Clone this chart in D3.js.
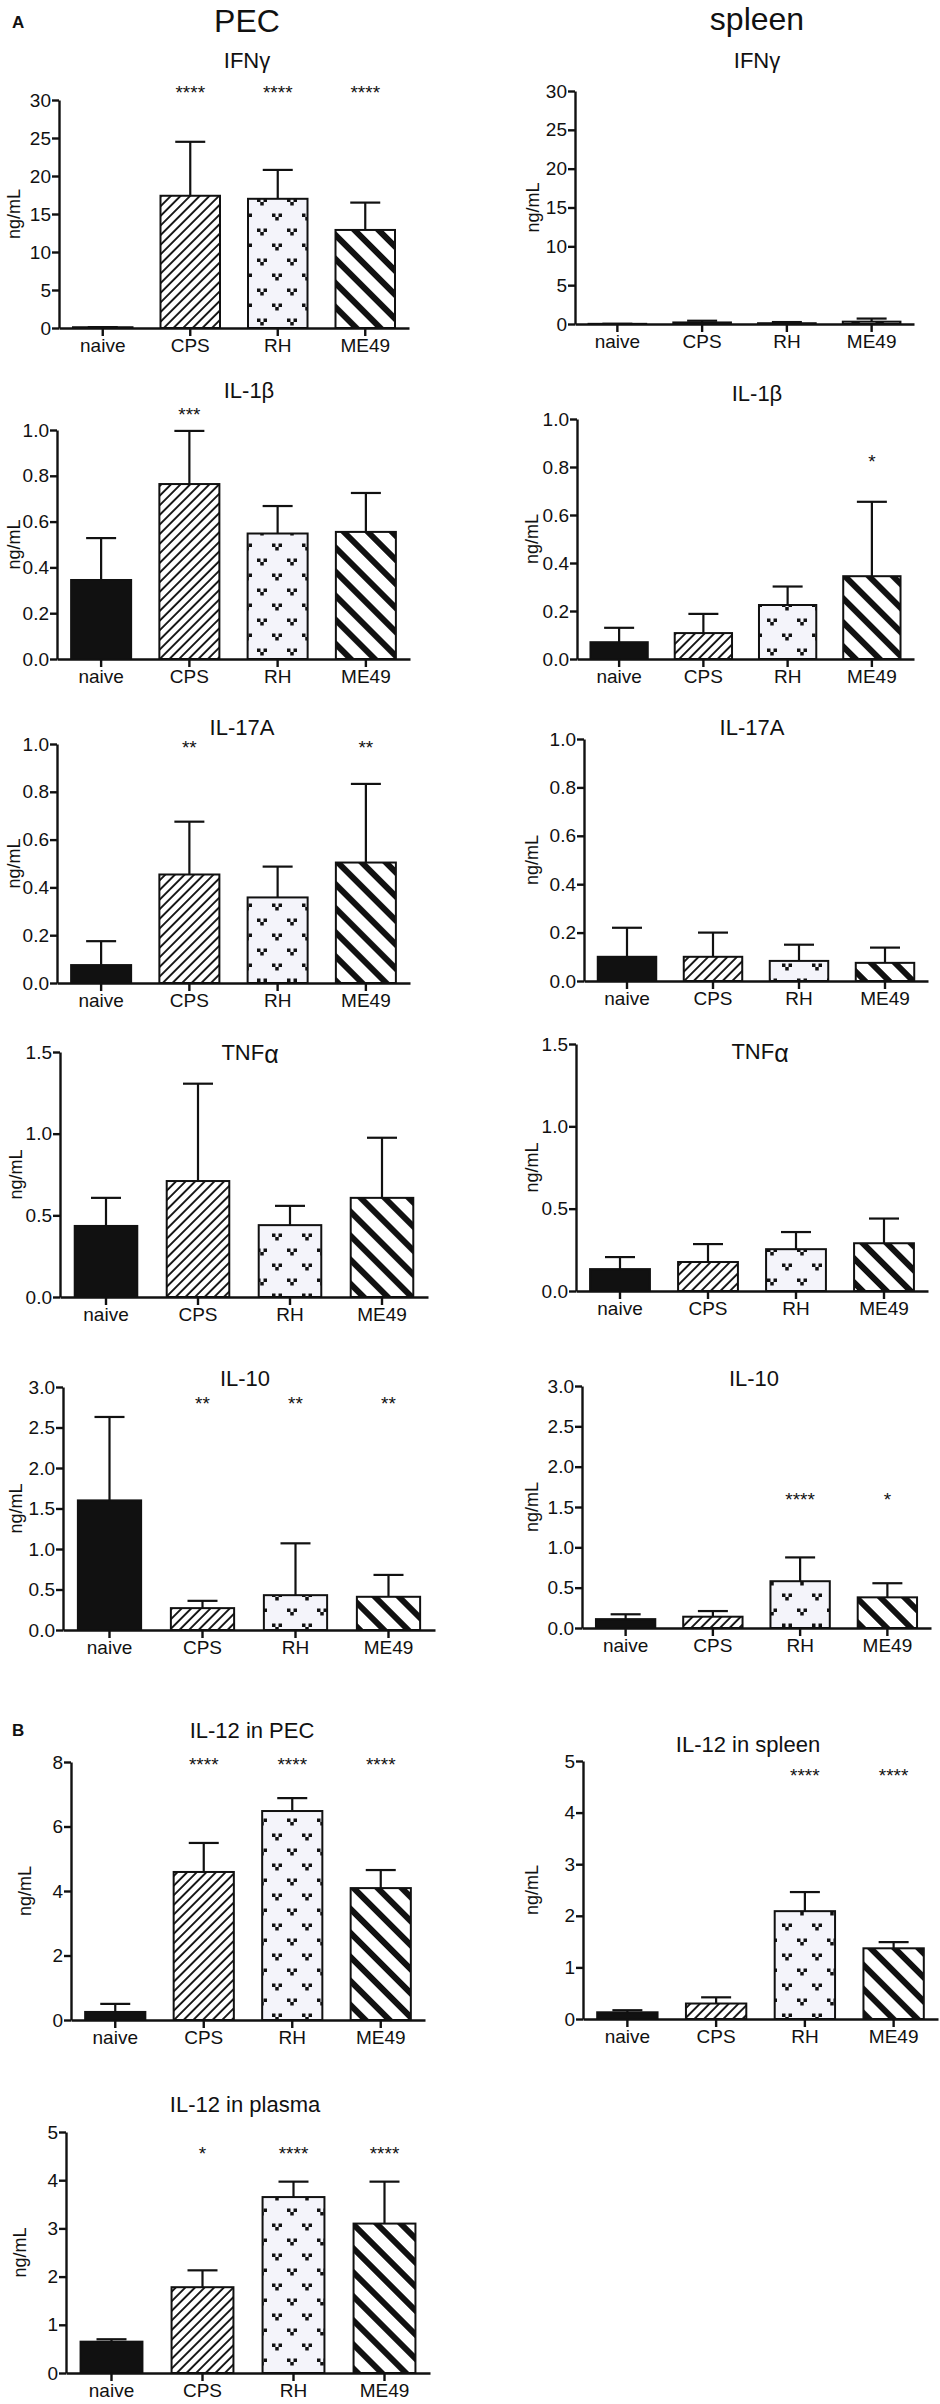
<!DOCTYPE html>
<meta charset="utf-8">
<html>
<head>
<script src="https://d3js.org/d3.v7.min.js"></script>
<style>
  body { margin: 0; background: #fff; }
  text { font-family: "Liberation Sans", Arial, sans-serif; fill: #111; }
  .axis path, .axis line { stroke: #111; stroke-width: 2.4px; }
  .axis text { font-size: 19px; fill: #111; }
</style>
</head>
<body>
<script>
// groups along every x axis
var groups = ["naive", "CPS", "RH", "ME49"];

// y tick values
var ticks30 = [0, 5, 10, 15, 20, 25, 30];
var ticks1 = [0, 0.2, 0.4, 0.6, 0.8, 1.0];
var ticks15 = [0, 0.5, 1.0, 1.5];
var ticks3 = [0, 0.5, 1.0, 1.5, 2.0, 2.5, 3.0];
var ticks8 = [0, 2, 4, 6, 8];
var ticks5 = [0, 1, 2, 3, 4, 5];

// mean, SD (ng/mL) and significance per group
var pecIfngMean = [0.1, 17.4, 17.0, 12.9];
var pecIfngSd = [0.02, 7.1, 3.8, 3.6];
var pecIfngStars = ["", "****", "****", "****"];

var splIfngMean = [0.02, 0.2, 0.1, 0.3];
var splIfngSd = [0.01, 0.22, 0.15, 0.4];
var splIfngStars = ["", "", "", ""];

var pecIl1bMean = [0.345, 0.764, 0.548, 0.555];
var pecIl1bSd = [0.183, 0.232, 0.12, 0.17];
var pecIl1bStars = ["", "***", "", ""];

var splIl1bMean = [0.07, 0.108, 0.225, 0.345];
var splIl1bSd = [0.06, 0.08, 0.077, 0.31];
var splIl1bStars = ["", "", "", "*"];

var pecIl17Mean = [0.075, 0.454, 0.358, 0.504];
var pecIl17Sd = [0.1, 0.221, 0.129, 0.329];
var pecIl17Stars = ["", "**", "", "**"];

var splIl17Mean = [0.1, 0.1, 0.083, 0.075];
var splIl17Sd = [0.12, 0.1, 0.067, 0.063];
var splIl17Stars = ["", "", "", ""];

var pecTnfMean = [0.435, 0.71, 0.44, 0.607];
var pecTnfSd = [0.172, 0.596, 0.118, 0.368];
var pecTnfStars = ["", "", "", ""];

var splTnfMean = [0.133, 0.176, 0.254, 0.29];
var splTnfSd = [0.073, 0.109, 0.104, 0.15];
var splTnfStars = ["", "", "", ""];

var pecIl10Mean = [1.6, 0.27, 0.43, 0.41];
var pecIl10Sd = [1.03, 0.09, 0.64, 0.27];
var pecIl10Stars = ["", "**", "**", "**"];

var splIl10Mean = [0.11, 0.14, 0.58, 0.38];
var splIl10Sd = [0.06, 0.07, 0.295, 0.175];
var splIl10Stars = ["", "", "****", "*"];

var il12PecMean = [0.25, 4.59, 6.48, 4.09];
var il12PecSd = [0.25, 0.9, 0.4, 0.56];
var il12PecStars = ["", "****", "****", "****"];

var il12SplMean = [0.13, 0.3, 2.09, 1.37];
var il12SplSd = [0.04, 0.12, 0.37, 0.12];
var il12SplStars = ["", "", "****", "****"];

var il12PlaMean = [0.65, 1.78, 3.65, 3.1];
var il12PlaSd = [0.05, 0.35, 0.32, 0.87];
var il12PlaStars = ["", "*", "****", "****"];

// panel layout (pixel boxes of each small chart)
var panels = [
  {title: "IFNγ", mean: pecIfngMean, sd: pecIfngSd, stars: pecIfngStars, ticks: ticks30, fmt: "d",
   x0: 59, x1: 409, yTop: 100, yZero: 328, titleX: 247, titleY: 68, starY: 99, labelX: 20},
  {title: "IFNγ", mean: splIfngMean, sd: splIfngSd, stars: splIfngStars, ticks: ticks30, fmt: "d",
   x0: 575, x1: 914, yTop: 91, yZero: 324, titleX: 757, titleY: 68, starY: 99, labelX: 539},
  {title: "IL-1β", mean: pecIl1bMean, sd: pecIl1bSd, stars: pecIl1bStars, ticks: ticks1, fmt: ".1f",
   x0: 57, x1: 410, yTop: 430, yZero: 659, titleX: 249, titleY: 398, starY: 421, labelX: 20},
  {title: "IL-1β", mean: splIl1bMean, sd: splIl1bSd, stars: splIl1bStars, ticks: ticks1, fmt: ".1f",
   x0: 577, x1: 914, yTop: 419, yZero: 659, titleX: 757, titleY: 401, starY: 468, labelX: 538},
  {title: "IL-17A", mean: pecIl17Mean, sd: pecIl17Sd, stars: pecIl17Stars, ticks: ticks1, fmt: ".1f",
   x0: 57, x1: 410, yTop: 744, yZero: 983, titleX: 242, titleY: 735, starY: 754, labelX: 20},
  {title: "IL-17A", mean: splIl17Mean, sd: splIl17Sd, stars: splIl17Stars, ticks: ticks1, fmt: ".1f",
   x0: 584, x1: 928, yTop: 739, yZero: 981, titleX: 752, titleY: 735, starY: 750, labelX: 538},
  {title: "TNF", greek: "α", mean: pecTnfMean, sd: pecTnfSd, stars: pecTnfStars, ticks: ticks15, fmt: ".1f",
   x0: 60, x1: 428, yTop: 1052, yZero: 1297, titleX: 250, titleY: 1060, starY: 1070, labelX: 22},
  {title: "TNF", greek: "α", mean: splTnfMean, sd: splTnfSd, stars: splTnfStars, ticks: ticks15, fmt: ".1f",
   x0: 576, x1: 928, yTop: 1044, yZero: 1291, titleX: 760, titleY: 1059, starY: 1070, labelX: 538},
  {title: "IL-10", mean: pecIl10Mean, sd: pecIl10Sd, stars: pecIl10Stars, ticks: ticks3, fmt: ".1f",
   x0: 63, x1: 435, yTop: 1387, yZero: 1630, titleX: 245, titleY: 1386, starY: 1410, labelX: 22},
  {title: "IL-10", mean: splIl10Mean, sd: splIl10Sd, stars: splIl10Stars, ticks: ticks3, fmt: ".1f",
   x0: 582, x1: 931, yTop: 1386, yZero: 1628, titleX: 754, titleY: 1386, starY: 1506, labelX: 538},
  {title: "IL-12 in PEC", mean: il12PecMean, sd: il12PecSd, stars: il12PecStars, ticks: ticks8, fmt: "d",
   x0: 71, x1: 425, yTop: 1762, yZero: 2020, titleX: 252, titleY: 1738, starY: 1771, labelX: 31},
  {title: "IL-12 in spleen", mean: il12SplMean, sd: il12SplSd, stars: il12SplStars, ticks: ticks5, fmt: "d",
   x0: 583, x1: 938, yTop: 1761, yZero: 2019, titleX: 748, titleY: 1752, starY: 1782, labelX: 538},
  {title: "IL-12 in plasma", mean: il12PlaMean, sd: il12PlaSd, stars: il12PlaStars, ticks: ticks5, fmt: "d",
   x0: 66, x1: 430, yTop: 2132, yZero: 2373, titleX: 245, titleY: 2112, starY: 2160, labelX: 26}
];

var svg = d3.select("body").append("svg")
  .attr("width", 940)
  .attr("height", 2404)
  .style("background", "#fff");

// fill patterns, one per group
var defs = svg.append("defs");

var cps = defs.append("pattern")
  .attr("id", "hatchCPS")
  .attr("patternUnits", "userSpaceOnUse")
  .attr("width", 6.8).attr("height", 6.8)
  .attr("patternTransform", "rotate(45)");
cps.append("rect").attr("width", 6.8).attr("height", 6.8).attr("fill", "#fff");
cps.append("line").attr("x1", 1).attr("y1", 0).attr("x2", 1).attr("y2", 6.8)
  .attr("stroke", "#111").attr("stroke-width", 1.9);

var me49 = defs.append("pattern")
  .attr("id", "hatchME49")
  .attr("patternUnits", "userSpaceOnUse")
  .attr("width", 17).attr("height", 17)
  .attr("patternTransform", "rotate(-45)");
me49.append("rect").attr("width", 17).attr("height", 17).attr("fill", "#fff");
me49.append("line").attr("x1", 3).attr("y1", 0).attr("x2", 3).attr("y2", 17)
  .attr("stroke", "#111").attr("stroke-width", 6);

var rh = defs.append("pattern")
  .attr("id", "dotsRH")
  .attr("patternUnits", "userSpaceOnUse")
  .attr("width", 30).attr("height", 30);
rh.append("rect").attr("width", 30).attr("height", 30).attr("fill", "#f4f4fa");
[[7, 7], [22, 22]].forEach(function (c) {
  // three little squares in a "v"
  [[-5, -3.5], [1.5, -3.5], [-1.75, 0]].forEach(function (o) {
    rh.append("rect")
      .attr("x", c[0] + o[0]).attr("y", c[1] + o[1])
      .attr("width", 3.5).attr("height", 3.5)
      .attr("fill", "#111");
  });
});

var fills = {naive: "#111", CPS: "url(#hatchCPS)", RH: "url(#dotsRH)", ME49: "url(#hatchME49)"};

// column headers and panel letters
svg.append("text").attr("x", 247).attr("y", 32).attr("text-anchor", "middle")
  .style("font-size", "32px").text("PEC");
svg.append("text").attr("x", 757).attr("y", 30).attr("text-anchor", "middle")
  .style("font-size", "32px").text("spleen");
svg.append("text").attr("x", 12).attr("y", 28)
  .style("font-size", "17px").style("font-weight", "bold").text("A");
svg.append("text").attr("x", 12).attr("y", 1736)
  .style("font-size", "17px").style("font-weight", "bold").text("B");

panels.forEach(function (p) {
  var g = svg.append("g");

  var x = d3.scaleBand()
    .domain(groups)
    .range([p.x0, p.x1])
    .paddingInner(0.32)
    .paddingOuter(0.16);

  var y = d3.scaleLinear()
    .domain([0, p.ticks[p.ticks.length - 1]])
    .range([p.yZero, p.yTop]);

  // bars
  g.selectAll("rect.bar")
    .data(groups)
    .enter()
    .append("rect")
    .attr("class", "bar")
    .attr("x", function (d) { return x(d); })
    .attr("width", x.bandwidth())
    .attr("y", function (d, i) { return y(p.mean[i]); })
    .attr("height", function (d, i) { return y(0) - y(p.mean[i]); })
    .attr("fill", function (d) { return fills[d]; })
    .attr("stroke", "#111")
    .attr("stroke-width", 2);

  // upper error bars (mean + SD)
  var cap = 15;
  groups.forEach(function (d, i) {
    var cx = x(d) + x.bandwidth() / 2;
    var top = y(p.mean[i] + p.sd[i]);
    g.append("line")
      .attr("x1", cx).attr("x2", cx)
      .attr("y1", y(p.mean[i])).attr("y2", top)
      .attr("stroke", "#111").attr("stroke-width", 2.2);
    g.append("line")
      .attr("x1", cx - cap).attr("x2", cx + cap)
      .attr("y1", top).attr("y2", top)
      .attr("stroke", "#111").attr("stroke-width", 2.2);
  });

  // significance stars
  g.selectAll("text.star")
    .data(groups)
    .enter()
    .append("text")
    .attr("class", "star")
    .attr("x", function (d) { return x(d) + x.bandwidth() / 2; })
    .attr("y", p.starY)
    .attr("text-anchor", "middle")
    .style("font-size", "19px")
    .text(function (d, i) { return p.stars[i]; });

  // axes
  g.append("g")
    .attr("class", "axis")
    .attr("transform", "translate(" + p.x0 + ",0)")
    .call(d3.axisLeft(y)
      .tickValues(p.ticks)
      .tickFormat(d3.format(p.fmt))
      .tickSize(7)
      .tickPadding(1)
      .tickSizeOuter(0));

  g.append("g")
    .attr("class", "axis")
    .attr("transform", "translate(0," + p.yZero + ")")
    .call(d3.axisBottom(x)
      .tickSize(8)
      .tickPadding(3)
      .tickSizeOuter(0));

  // y axis title
  g.append("text")
    .attr("transform", "translate(" + p.labelX + "," + ((p.yTop + p.yZero) / 2) + ") rotate(-90)")
    .attr("text-anchor", "middle")
    .style("font-size", "18px")
    .text("ng/mL");

  // panel title
  var t = g.append("text")
    .attr("x", p.titleX)
    .attr("y", p.titleY)
    .attr("text-anchor", "middle")
    .style("font-size", "22px")
    .text(p.title);
  if (p.greek) {
    t.append("tspan")
      .attr("dy", 3)
      .style("font-size", "25px")
      .text(p.greek);
  }
});
</script>
</body>
</html>
